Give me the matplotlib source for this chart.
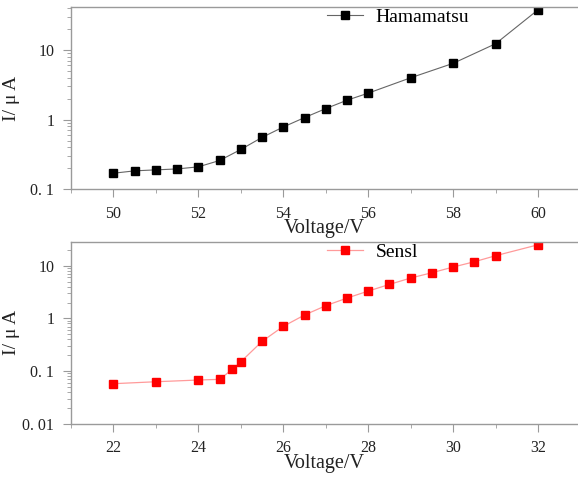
import matplotlib
matplotlib.use("Agg")
import matplotlib.pyplot as plt
from matplotlib.ticker import FixedLocator, LogLocator, MultipleLocator, FuncFormatter

# Hamamatsu SiPM: bias voltage vs dark current
ham_voltage = [50, 50.5, 51, 51.5, 52, 52.5, 53, 53.5, 54, 54.5, 55, 55.5, 56, 57, 58, 59, 60]
ham_current = [0.17, 0.184, 0.19, 0.196, 0.21, 0.259, 0.373, 0.556, 0.784, 1.07, 1.44, 1.90,
               2.40, 3.99, 6.43, 12.3, 37.8]

# SensL SiPM
sensl_voltage = [22, 23, 24, 24.5, 24.8, 25, 25.5, 26, 26.5, 27, 27.5, 28, 28.5, 29, 29.5,
                 30, 30.5, 31, 32]
sensl_current = [0.0575, 0.0626, 0.0675, 0.0695, 0.1076, 0.150, 0.366, 0.705, 1.16, 1.74,
                 2.43, 3.30, 4.42, 5.84, 7.36, 9.44, 11.9, 15.5, 25.0]

ham_yticks = [0.1, 1, 10]
sensl_yticks = [0.01, 0.1, 1, 10]

plt.rcParams['font.family'] = ['Liberation Serif', 'DejaVu Serif']
spine_col = '#9a9a9a'
text_col = '#222222'


def fmt_tick(v, pos):
    if v >= 1:
        return "%d" % v
    return "0. " + ("%g" % v)[2:]


def style_axes(ax, xlim, ylim, yticks):
    ax.set_yscale('log')
    ax.set_xlim(*xlim)
    ax.set_ylim(*ylim)
    ax.xaxis.set_major_locator(MultipleLocator(2))
    ax.xaxis.set_minor_locator(MultipleLocator(1))
    ax.yaxis.set_major_locator(FixedLocator(yticks))
    ax.yaxis.set_minor_locator(LogLocator(base=10, subs=range(2, 10)))
    ax.yaxis.set_major_formatter(FuncFormatter(fmt_tick))
    ax.yaxis.set_minor_formatter(FuncFormatter(lambda v, p: ""))
    ax.spines['right'].set_visible(False)
    for s in ['left', 'bottom', 'top']:
        ax.spines[s].set_color(spine_col)
        ax.spines[s].set_linewidth(1.0)
    ax.tick_params(which='both', direction='out', color=spine_col, labelsize=11.5,
                   labelcolor=text_col)
    ax.tick_params(which='major', length=6, pad=6)
    ax.tick_params(which='minor', length=3)
    ax.set_xlabel("Voltage/V", fontsize=14.5, color=text_col)
    ax.set_ylabel("I/ μ A", fontsize=14, color=text_col)
    ax.xaxis.set_label_coords(0.5, -0.165)
    ax.yaxis.set_label_coords(-0.10, 0.5)
    ax.legend(loc='center left', bbox_to_anchor=(0.505, 0.944), frameon=False,
              fontsize=14, handlelength=1.85, handletextpad=0.65, borderpad=0,
              borderaxespad=0)


fig = plt.figure(figsize=(5.78, 4.83), dpi=100)
ax1 = fig.add_axes([0.1228, 0.6081, 0.8772, 0.378])
ax2 = fig.add_axes([0.1228, 0.1228, 0.8772, 0.3768])

ax1.plot(ham_voltage, ham_current, color='#666666', lw=0.8, marker='s', ms=6,
         mfc='black', mec='black', label='Hamamatsu')
style_axes(ax1, (49.0, 60.94), (0.1, 41.8), ham_yticks)

ax2.plot(sensl_voltage, sensl_current, color='#ff9a9a', lw=0.9, marker='s', ms=6,
         mfc='#ff0000', mec='#ff0000', label='Sensl')
style_axes(ax2, (21.0, 32.94), (0.01, 28.6), sensl_yticks)

fig.savefig("out.png", dpi=100)
